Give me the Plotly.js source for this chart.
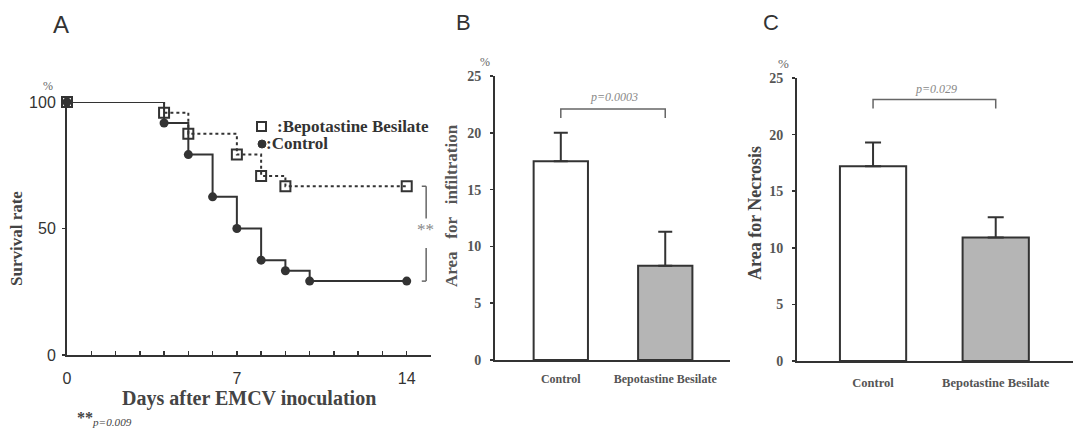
<!DOCTYPE html>
<html>
<head>
<meta charset="utf-8">
<script src="https://cdn.plot.ly/plotly-3.0.1.min.js"></script>
<style>html,body{margin:0;padding:0;background:#fff;}#chart{width:1073px;height:432px;}</style>
</head>
<body>
<div id="chart"></div>
<script>
// ---- data ----
const daysControl = [0, 4, 5, 6, 7, 8, 9, 10, 14];
const survControl = [100, 91.7, 79.2, 62.5, 50, 37.5, 33.3, 29.2, 29.2];
const daysBepo = [0, 4, 5, 7, 8, 9, 14];
const survBepo = [100, 95.8, 87.5, 79.2, 70.8, 66.7, 66.7];
const groups = ['Control', 'Bepotastine Besilate'];
const infilMean = [17.5, 8.3];
const infilErr = [2.5, 3.0];
const necroMean = [17.2, 10.9];
const necroErr = [2.1, 1.8];
const dayTickVals = [0, 7, 14];
const survTickVals = [0, 50, 100];

const SERIF = 'Liberation Serif, Times New Roman, serif';
const SANS = 'Liberation Sans, Arial, sans-serif';
const DARK = '#333333';
const GREY = '#666666';
const W = 1073, H = 432;
const px = v => v / W;
const py = v => 1 - v / H;

const idx = groups.map((g, i) => i);

const traces = [
  // Survival lines
  {x: daysBepo, y: survBepo, type: 'scatter', mode: 'lines', line: {shape: 'hv', color: DARK, width: 2, dash: 'dot'},
   xaxis: 'x', yaxis: 'y', showlegend: false, cliponaxis: false, hoverinfo: 'skip'},
  {x: daysControl, y: survControl, type: 'scatter', mode: 'lines', line: {shape: 'hv', color: DARK, width: 2},
   xaxis: 'x', yaxis: 'y', showlegend: false, cliponaxis: false, hoverinfo: 'skip'},
  // Markers
  {x: daysControl, y: survControl, type: 'scatter', mode: 'markers', name: 'Control', showlegend: false,
   marker: {symbol: 'circle', size: 9, color: DARK}, xaxis: 'x', yaxis: 'y', cliponaxis: false},
  {x: daysBepo, y: survBepo, type: 'scatter', mode: 'markers', name: 'Bepotastine Besilate', showlegend: false,
   marker: {symbol: 'square', size: 10, color: 'rgba(255,255,255,0)', line: {color: DARK, width: 2}},
   xaxis: 'x', yaxis: 'y', cliponaxis: false},
  // Panel B bars
  {x: idx, y: infilMean, type: 'bar', width: 0.52, xaxis: 'x2', yaxis: 'y2', showlegend: false,
   marker: {color: ['#ffffff', '#b5b5b5'], line: {color: DARK, width: 2}},
   error_y: {type: 'data', symmetric: false, array: infilErr, arrayminus: [0, 0], color: DARK, thickness: 2, width: 7}},
  // Panel C bars
  {x: idx, y: necroMean, type: 'bar', width: 0.54, xaxis: 'x3', yaxis: 'y3', showlegend: false,
   marker: {color: ['#ffffff', '#b5b5b5'], line: {color: DARK, width: 2}},
   error_y: {type: 'data', symmetric: false, array: necroErr, arrayminus: [0, 0], color: DARK, thickness: 2, width: 8}}
];

const lastB = survBepo[survBepo.length - 1];
const lastC = survControl[survControl.length - 1];
const brX = 14.8, brX0 = 14.62;
const gl = {color: GREY, width: 1.5};
const shapes = [
  // significance bracket panel A
  {type: 'line', xref: 'x', yref: 'y', x0: brX0, x1: brX, y0: lastB, y1: lastB, line: gl},
  {type: 'line', xref: 'x', yref: 'y', x0: brX, x1: brX, y0: lastB, y1: 54, line: gl},
  {type: 'line', xref: 'x', yref: 'y', x0: brX, x1: brX, y0: 42.3, y1: lastC, line: gl},
  {type: 'line', xref: 'x', yref: 'y', x0: brX0, x1: brX, y0: lastC, y1: lastC, line: gl},
  // panel B bracket
  {type: 'path', xref: 'x2', yref: 'y2', path: 'M 0 21.3 L 0 22.1 L 1 22.1 L 1 21.3', line: {color: GREY, width: 1.5}},
  // panel C bracket
  {type: 'path', xref: 'x3', yref: 'y3', path: 'M 0 22.3 L 0 23.1 L 1 23.1 L 1 22.3', line: {color: GREY, width: 1.5}},
  // legend key symbols (panel A)
  {type: 'rect', xref: 'paper', yref: 'paper', x0: px(257), x1: px(266), y0: py(131), y1: py(122),
   line: {color: DARK, width: 2}, fillcolor: '#fff'},
  {type: 'circle', xref: 'paper', yref: 'paper', x0: px(258), x1: px(266), y0: py(148), y1: py(140),
   line: {color: DARK, width: 1}, fillcolor: DARK}
];

const ann = (x, y, text, font, extra) => Object.assign({xref: 'paper', yref: 'paper', x: px(x), y: py(y), text: text,
  showarrow: false, font: font, xanchor: 'center', yanchor: 'middle'}, extra || {});

const annotations = [
  ann(61, 24, 'A', {family: SANS, size: 24, color: DARK}),
  ann(463, 22, 'B', {family: SANS, size: 22, color: DARK}),
  ann(771, 22, 'C', {family: SANS, size: 22, color: DARK}),
  ann(48, 86, '%', {family: SERIF, size: 12, color: GREY}),
  ann(485, 62, '%', {family: SERIF, size: 12, color: GREY}),
  ann(783, 63, '%', {family: SERIF, size: 13, color: GREY}),
  ann(275, 127, '<b>:Bepotastine Besilate</b>', {family: SERIF, size: 17, color: DARK}, {xanchor: 'left'}),
  ann(264, 144, '<b>:Control</b>', {family: SERIF, size: 17, color: DARK}, {xanchor: 'left'}),
  ann(17, 239, '<b>Survival rate</b>', {family: SERIF, size: 17, color: '#444'}, {textangle: -90}),
  ann(249, 398, '<b>Days after EMCV inoculation</b>', {family: SERIF, size: 20, color: '#444'}),
  ann(75, 418, '<b>**</b><sub><i>p=0.009</i></sub>', {family: SERIF, size: 16, color: '#444'}, {xanchor: 'left'}),
  ann(425, 229, '**', {family: SERIF, size: 17, color: '#888'}),
  ann(451, 206, '<b>Area\u00a0\u00a0 for\u00a0\u00a0 infiltration</b>', {family: SERIF, size: 17, color: '#555'}, {textangle: -90}),
  ann(755, 213, '<b>Area for Necrosis</b>', {family: SERIF, size: 18, color: '#444'}, {textangle: -90}),
  ann(614, 97, '<i>p=0.0003</i>', {family: SERIF, size: 12, color: '#888'}),
  ann(936, 89, '<i>p=0.029</i>', {family: SERIF, size: 12, color: '#888'})
];

const axLine = {showline: true, linecolor: DARK, linewidth: 2, zeroline: false, showgrid: false};

const layout = {
  width: W, height: H,
  margin: {l: 0, r: 0, t: 0, b: 0},
  paper_bgcolor: '#fff', plot_bgcolor: 'rgba(0,0,0,0)',
  showlegend: false,
  xaxis: Object.assign({}, axLine, {domain: [px(67), px(431)], range: [0, 15], tickvals: dayTickVals,
    ticks: 'inside', ticklen: 4, tickwidth: 1.5, tickcolor: DARK, ticklabelstandoff: 8,
    minor: {dtick: 1, tick0: 0, ticks: 'inside', ticklen: 4, tickwidth: 1.5, tickcolor: DARK, showgrid: false},
    tickfont: {family: SANS, size: 16, color: DARK}, anchor: 'y'}),
  yaxis: Object.assign({}, axLine, {domain: [py(355), py(102)], range: [0, 100], tickvals: survTickVals,
    ticks: 'outside', ticklen: 3, tickwidth: 1.5, tickcolor: DARK, ticklabelstandoff: 3,
    tickfont: {family: SANS, size: 16, color: DARK}, anchor: 'x'}),
  xaxis2: Object.assign({}, axLine, {domain: [px(495), px(730)], range: [-0.63, 1.62], tickvals: idx, ticktext: groups,
    ticks: '', ticklabelstandoff: 7, tickfont: {family: SERIF, size: 12, color: '#555', weight: 'bold'}, anchor: 'y2'}),
  yaxis2: Object.assign({}, axLine, {domain: [py(360), py(76)], range: [0, 25], dtick: 5,
    ticks: 'outside', ticklen: 3, tickwidth: 1.5, tickcolor: DARK, ticklabelstandoff: 6,
    tickfont: {family: SERIF, size: 14, color: '#555', weight: 'bold'}, anchor: 'x2'}),
  xaxis3: Object.assign({}, axLine, {domain: [px(797), 1], range: [-0.62, 1.63], tickvals: idx, ticktext: groups,
    ticks: '', ticklabelstandoff: 9, tickfont: {family: SERIF, size: 12.5, color: '#555', weight: 'bold'}, anchor: 'y3'}),
  yaxis3: Object.assign({}, axLine, {domain: [py(361), py(78)], range: [0, 25], dtick: 5,
    ticks: 'outside', ticklen: 3, tickwidth: 1.5, tickcolor: DARK, ticklabelstandoff: 6,
    tickfont: {family: SERIF, size: 14, color: '#555', weight: 'bold'}, anchor: 'x3'}),
  shapes: shapes,
  annotations: annotations
};

Plotly.newPlot('chart', traces, layout, {staticPlot: true, displayModeBar: false});
</script>
</body>
</html>
